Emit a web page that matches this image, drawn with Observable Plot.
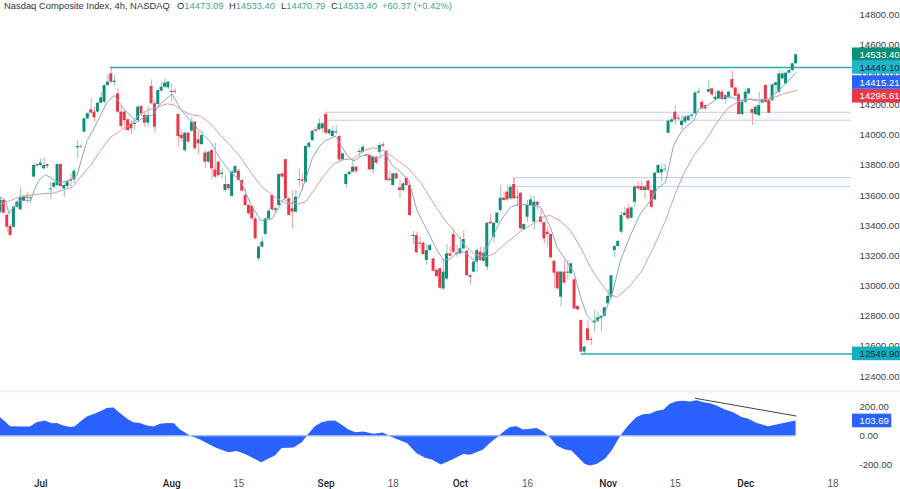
<!DOCTYPE html>
<html>
<head>
<meta charset="utf-8">
<script src="https://cdn.jsdelivr.net/npm/d3@7"></script>
<script src="https://cdn.jsdelivr.net/npm/@observablehq/plot@0.6"></script>
<style>
html,body{margin:0;padding:0;background:#fff;overflow:hidden}
#page{position:relative;width:900px;height:489px;font-family:"Liberation Sans",sans-serif}
#top,#bottom{position:absolute;left:0}
#top{top:0}
#bottom{top:391px}
.legend{position:absolute;top:0;font-size:9.4px;line-height:11px;color:#2f3340;white-space:nowrap}
.legend b{font-weight:normal;color:#3fa596}
</style>
</head>
<body>
<div id="page">
  <div id="top"></div>
  <div id="bottom"></div>
  <div class="legend" style="left:4px">Nasdaq Composite Index, 4h, NASDAQ</div>
  <div class="legend" style="left:177px">O<b>14473.09</b></div>
  <div class="legend" style="left:229px">H<b>14533.40</b></div>
  <div class="legend" style="left:281px">L<b>14470.79</b></div>
  <div class="legend" style="left:331px">C<b>14533.40</b></div>
  <div class="legend" style="left:382px"><b>+60.37 (+0.42%)</b></div>
</div>
<script>
const opens = [13490,13567,13468,13395,13390,13523,13505,13567,13589,13578,13722,13804,13799,13777,13804,13638,13655,13666,13806,13644,13660,13704,13704,13916,13925,14020,14108,14168,14153,14153,14212,14219,14329,14407,14349,14274,14153,14153,14102,14075,14071,14097,14190,14131,14080,14323,14208,14203,14292,14318,14314,14283,14292,14137,13998,13898,14013,14027,14086,13969,13938,13881,13821,13898,13770,13821,13739,13633,13673,13594,13748,13761,13700,13600,13534,13527,13445,13180,13258,13342,13445,13600,13501,13534,13744,13837,13578,13512,13490,13700,
13704,13688,13920,13964,14035,14035,14042,14137,14009,13991,14015,13991,13836,13673,13739,13755,13788,13885,13887,13869,13865,13770,13854,13887,13936,13892,13708,13666,13744,13651,13633,13715,13666,13328,13335,13284,13284,13169,13235,13180,13103,13114,12981,13047,13213,13341,13218,13213,13246,13231,13069,13092,13158,13224,13164,13125,13423,13324,13416,13500,13582,13622,13578,13673,13589,13615,13372,13456,13534,13423,13556,13456,13419,13357,13341,13164,13092,12926,13092,13085,13081,13041,12864,
12771,12562,12716,12645,12754,12767,12783,12798,12882,12926,
13235,13262,13357,13467,13511,13449,13555,13659,13659,13633,13695,13633,13571,13748,13750,13770,14013,14086,14152,14112,14064,14086,14097,14126,14141,14280,14218,14196,14285,14307,14236,14241,14285,14236,14247,14369,14313,14269,14137,14218,14274,14170,14137,14130,14214,14329,14229,14229,14329,14285,14373,14340,14411,14428,14473.09];
const highs = [13589,13578,13479,13412,13534,13567,13655,13600,13622,13600,13810,13810,13843,13850,13810,13689,13689,13810,13810,13677,13700,13744,13770,13965,13938,14115,14153,14241,14186,14219,14285,14336,14402,14451,14396,14307,14186,14159,14108,14097,14108,14197,14197,14153,14186,14367,14230,14301,14352,14374,14356,14341,14314,14142,14027,14020,14018,14119,14093,14020,14031,13898,13894,13903,13947,13826,13777,13733,13677,13766,13797,13777,13704,13644,13541,13534,13456,13269,13324,13452,13512,13605,13523,13744,13748,13841,13589,13633,13633,13777,
13744,13931,13953,14035,14053,14108,14086,14152,14042,14057,14064,13998,13880,13744,13759,13843,13792,13909,13936,13876,13869,13858,13858,13947,13953,13898,13766,13748,13748,13704,13682,13726,13671,13361,13357,13324,13290,13275,13279,13184,13114,13118,13180,13275,13257,13379,13268,13324,13368,13235,13074,13180,13246,13257,13257,13423,13478,13423,13489,13666,13622,13666,13666,13717,13644,13622,13412,13567,13600,13593,13560,13511,13423,13390,13346,13169,13096,13096,13169,13169,13151,13047,12871,
12776,12599,12771,12661,12838,12827,12805,12864,12975,13070,
13266,13301,13489,13522,13544,13522,13666,13688,13688,13666,13699,13637,13752,13805,13805,13810,14097,14119,14196,14130,14130,14130,14130,14141,14285,14313,14234,14201,14362,14313,14285,14296,14300,14267,14296,14428,14318,14285,14229,14307,14313,14174,14196,14285,14241,14333,14234,14340,14351,14424,14424,14417,14439,14477,14533.4];
const lows = [13479,13479,13357,13328,13379,13512,13501,13556,13545,13545,13717,13788,13788,13770,13777,13574,13644,13660,13655,13589,13644,13655,13677,13843,13910,14016,14102,14142,14086,14146,14208,14208,14323,14341,14323,14142,14042,14031,14020,14005,14031,14086,14119,14049,14053,14203,14013,14190,14285,14307,14301,14219,14270,13921,13954,13887,13943,14020,13898,13872,13932,13777,13810,13704,13715,13722,13711,13622,13633,13589,13744,13689,13622,13527,13468,13434,13308,13165,13253,13335,13439,13496,13479,13527,13717,13574,13461,13379,13483,13655,
13633,13682,13909,13960,14020,14031,14013,14000,14000,13987,14000,13821,13832,13648,13732,13748,13744,13854,13880,13854,13766,13744,13805,13843,13916,13695,13695,13660,13704,13578,13629,13660,13461,13275,13213,13240,13202,13136,13231,13092,13054,12977,12970,13036,13191,13213,13191,13209,13240,13063,13010,13085,13092,13164,13158,13103,13408,13284,13412,13489,13560,13560,13567,13571,13522,13372,13368,13423,13527,13372,13500,13412,13279,13257,13180,12981,12974,12860,13014,13036,13076,12842,12833,
12555,12549.9,12628,12606,12694,12754,12694,12794,12878,12922,
13186,13257,13345,13460,13438,13445,13522,13633,13628,13578,13628,13511,13567,13743,13688,13754,14008,14079,14064,14097,14035,14075,14092,14108,14137,14274,14168,14163,14278,14258,14229,14234,14229,14207,14241,14307,14252,14130,14130,14207,14263,14064,14130,14123,14207,14212,14141,14225,14274,14274,14366,14333,14406,14424,14470.79];
const closes = [13567,13483,13390,13335,13523,13556,13585,13589,13582,13585,13799,13795,13815,13799,13793,13644,13682,13806,13660,13666,13689,13695,13761,13925,13921,14108,14142,14146,14115,14212,14248,14329,14352,14352,14358,14153,14058,14097,14031,14042,14080,14186,14142,14080,14131,14208,14053,14296,14318,14345,14352,14290,14285,13991,13976,14013,13954,14086,13910,13943,13998,13821,13887,13777,13722,13733,13748,13673,13644,13755,13792,13700,13629,13534,13479,13445,13313,13258,13291,13445,13496,13505,13512,13739,13722,13578,13468,13490,13589,13706,
13695,13925,13947,14026,14026,14075,14075,14013,14035,14026,14022,13836,13876,13739,13755,13788,13759,13892,13920,13863,13770,13854,13814,13931,13927,13699,13699,13744,13710,13633,13677,13666,13467,13335,13220,13277,13209,13235,13268,13098,13063,12985,13092,13213,13198,13224,13211,13246,13308,13069,13058,13158,13235,13169,13217,13416,13412,13416,13483,13582,13567,13571,13655,13578,13582,13379,13408,13534,13571,13556,13534,13423,13313,13341,13187,13085,12981,13092,13019,13092,13147,12848,12842,
12562,12595,12639,12639,12767,12789,12798,12855,12931,13068,
13262,13295,13467,13483,13445,13518,13655,13644,13633,13655,13633,13522,13748,13799,13772,13774,14092,14101,14101,14106,14092,14119,14126,14134,14280,14287,14174,14174,14302,14267,14252,14291,14236,14263,14285,14313,14258,14137,14218,14285,14307,14146,14185,14196,14236,14218,14146,14333,14347,14406,14406,14411,14428,14473,14533.4];

const fastBars = [0,1.5,2.5,3.5,6,9,10,11.4,13.4,15.4,17.4,20.4,22.8,24.3,25.8,27.8,29.8,31.8,33.8,35,36.7,39.2,40.7,42.7,45.2,47.7,51.1,53.6,56.6,59.6,62.6,65.5,68.5,71.5,74.5,77.5,80.9,84.4,86.4,88.9,90.8,92.8,94.8,96.8,99.8,101.8,103.3,105.2,107.7,109.7,112.2,114.7,116.7,119.2,121.6,124.1,127.1,130.1,132.1,134,137,139,141.5,144,146,149,151.9,154.9,157.9,160.9,163.8,165.8,168.8,170.8,172.8,174.7,176.7,179.7,182.2,184.7,187.6,190.6,193.6,195.6,198.1,200.5,203,206.5,208,210.5,213.5,216.4,218.9,221.4,223.4,226.4,228.8,231.3,233.8,237];
const fastValues = [13589,13567,13479,13512,13567,13567,13633,13700,13739,13711,13682,13700,13733,13854,13965,14042,14131,14219,14263,14230,14175,14119,14086,14119,14131,14208,14274,14175,14097,14020,13954,13843,13755,13700,13545,13434,13445,13578,13545,13589,13699,13843,13920,13964,13993,13920,13865,13827,13865,13872,13843,13876,13799,13755,13699,13500,13368,13235,13169,13180,13235,13213,13158,13213,13301,13434,13523,13545,13534,13523,13390,13257,13158,13092,12926,12804,12760,12804,12948,13169,13334,13478,13566,13644,13688,13931,14031,14097,14174,14196,14241,14263,14241,14229,14241,14229,14241,14285,14340,14415.21];
const slowBars = [0,3,6,9.9,15.9,18.9,21.4,23.8,26.8,29.8,32.8,35.8,38.2,41.2,43.7,46.7,49.7,51.6,54.1,56.6,59.6,62.6,65.5,68.5,71.5,74.5,77.5,80.4,83.4,85.4,88.4,90.8,93.3,96.3,99.3,102.3,105.2,108.2,111.2,114.2,117.7,121.6,125.1,129.1,132.1,135,138.5,141,144,147,150.9,154.9,158.9,161.8,163.8,166.8,169.8,172.8,175.7,178.7,181.2,183.7,187.6,191.1,194.6,198.1,201,203.5,206.5,210,213.5,216.4,219.4,221.9,225.4,229.3,233.3,237];
const slowValues = [13545,13567,13594,13607,13616,13638,13655,13722,13799,13898,13987,14031,14064,14131,14164,14186,14208,14201,14164,14137,14126,14075,13998,13932,13854,13755,13666,13611,13567,13545,13545,13556,13633,13732,13810,13839,13843,13898,13916,13898,13843,13777,13688,13545,13445,13368,13268,13213,13191,13213,13290,13363,13416,13461,13467,13430,13368,13257,13124,13025,12948,12925,13003,13102,13257,13434,13611,13743,13865,13964,14086,14174,14218,14241,14229,14241,14274,14296.61];

const oscBars = [0,1.5,3,6,8.9,10.9,13.4,15.4,16.9,18.9,20.9,22.3,24.3,26,28.3,30.3,31.8,33.8,35.7,38.2,39.7,41.7,43.7,45.7,47.7,49.7,51.8,53.6,56.6,59.6,62.1,64.5,68,70.5,73,75.5,77.8,79.9,81.9,83.9,87.4,89.9,91.4,93.8,95.8,97.8,99.8,101.8,103.8,105.8,108.2,111.2,114,116.2,118.7,121.2,124.1,126.6,128.6,131.3,134.1,136,138,140,141.9,143.9,145.9,148.7,150.4,151.9,153.9,155.8,157.8,159.8,161.8,163.8,165.8,168.3,170.2,172.2,174.2,175.7,177.7,180.2,182.2,184.8,187.1,189.6,191.6,193.6,195.6,197.6,199.5,201.5,203.5,205.5,207.5,209.5,211.5,213.4,215.9,218.4,220.9,222.9,225.4,228.8,232.3,237];
const oscValues = [126,97,64,62,62,92,104,85,87,69,58,64,104,133,152,173,189,193,156,110,92,87,69,62,81,87,85,41,0,-28,-58,-87,-115,-106,-127,-156,-184,-161,-138,-87,-83,-46,0,64,92,101,104,74,41,23,28,12,21,-5,-30,-51,-122,-154,-166,-200,-172,-150,-127,-133,-115,-97,-51,0,35,58,64,41,46,51,28,-12,-69,-97,-104,-150,-196,-207,-196,-161,-104,0,69,127,147,150,170,177,219,237,239,235,244,230,223,207,179,161,127,115,87,64,81,103.69];
const slopeBars = [207,237];
const slopeValues = [260,138];

const priceTicks = [14800,14600,14400,14200,14000,13800,13600,13400,13200,13000,12800,12600,12400];
const oscTicks = [200,0,-200];
const monthBars = [51,97,137,181,222,12];
const monthNames = ["Aug","Sep","Oct","Nov","Dec","Jul"];
const dayBars = [71,117,157,201,248];
const dayNames = ["15","18","16","15","18"];

const supportLow = 12549.90, resistanceHigh = 14449.10;
const levelStarts = [32.8,173];
const levelPrices = [resistanceHigh,supportLow];
const zoneStarts = [96.8,152.9];
const zoneTops = [14152,13719];
const zoneBottoms = [14099,13659];

const tagTexts = ["14533.40","14449.10","14415.21","14296.61","12549.90"];
const tagPrices = [14533,14449,14349,14258,12549.9];
const tagFills = ["#0b8f78","#22b5c8","#2962ff","#e8394a","#12aebd"];
const tagInks = ["#ffffff","#0f2b46","#ffffff","#ffffff","#0f2b46"];
const oscTagText = ["103.69"];
const oscTagValue = [103.69];

const GREEN = "#0e8f78", RED = "#e8394a", BLUE = "#2962ff", INK = "#3a3e4a";
const bars = d3.range(opens.length);
const colorOf = i => closes[i] >= opens[i] ? GREEN : RED;
const AXIS_END = 253.8, CHART_END = 268.1, TEXT_AT = 255.9, HALF_BODY = 0.44;
const idx = a => d3.range(a.length);
const fmt = d3.format(".2f");
const common = {width:900, marginLeft:0, marginRight:48, marginTop:0,
  style:{background:"#fff", fontFamily:"'Liberation Sans',sans-serif", fontSize:"10px", overflow:"visible"},
  x:{domain:[0,AXIS_END], axis:null}, color:{type:"identity"}};

const priceChart = Plot.plot({...common, height:391, marginBottom:0,
  y:{domain:[12300.5,14893], axis:null},
  marks:[
    Plot.rect(idx(zoneStarts),{x1:i=>zoneStarts[i],x2:()=>AXIS_END-0.3,y1:i=>zoneBottoms[i],y2:i=>zoneTops[i],fill:"#f8fafe"}),
    Plot.ruleY(idx(zoneStarts),{x1:i=>zoneStarts[i],x2:()=>AXIS_END-0.3,y:i=>zoneTops[i],stroke:"#c9d0e0",strokeWidth:1}),
    Plot.ruleY(idx(zoneStarts),{x1:i=>zoneStarts[i],x2:()=>AXIS_END-0.3,y:i=>zoneBottoms[i],stroke:"#c9d0e0",strokeWidth:1}),
    Plot.ruleX(idx(zoneStarts),{x:i=>zoneStarts[i],y1:i=>zoneBottoms[i],y2:i=>zoneTops[i],stroke:"#c9d0e0",strokeWidth:1}),
    Plot.ruleY(idx(levelStarts),{x1:i=>levelStarts[i],x2:()=>AXIS_END,y:i=>levelPrices[i],stroke:"#2aabb0",strokeWidth:1.5}),
    Plot.ruleX(bars,{x:i=>i,y1:i=>lows[i],y2:i=>highs[i],stroke:colorOf,strokeWidth:0.9,strokeOpacity:0.55}),
    Plot.rect(bars,{x1:i=>i-HALF_BODY,x2:i=>i+HALF_BODY,y1:i=>opens[i],y2:i=>closes[i],fill:colorOf}),
    Plot.line(idx(fastBars),{x:i=>fastBars[i],y:i=>fastValues[i],stroke:"#8ca4d2",strokeWidth:1}),
    Plot.line(idx(slowBars),{x:i=>slowBars[i],y:i=>slowValues[i],stroke:"#dc9c9e",strokeWidth:1}),
    Plot.axisY(priceTicks,{anchor:"right",tickSize:0,tickPadding:7,tickFormat:fmt,label:null,color:INK,fontSize:9.6}),
    Plot.rect(idx(tagTexts),{x1:()=>AXIS_END,x2:()=>CHART_END,y1:i=>tagPrices[i]-45,y2:i=>tagPrices[i]+45,fill:i=>tagFills[i]}),
    Plot.text(idx(tagTexts),{x:()=>TEXT_AT,y:i=>tagPrices[i],text:i=>tagTexts[i],fill:i=>tagInks[i],textAnchor:"start",fontSize:9.6})
  ]});
document.getElementById("top").append(priceChart);

const oscChart = Plot.plot({...common, height:98, marginBottom:16,
  y:{domain:[-258.6,307], axis:null},
  marks:[
    Plot.ruleY([307],{x1:()=>0,x2:()=>CHART_END,stroke:"#eef0f3",strokeWidth:2}),
    Plot.areaY(idx(oscBars),{x:i=>oscBars[i],y:i=>oscValues[i],fill:BLUE}),
    Plot.ruleY([0],{x1:()=>0,x2:()=>237,stroke:"#9db8ff",strokeWidth:0.8}),
    Plot.line(idx(slopeBars),{x:i=>slopeBars[i],y:i=>slopeValues[i],stroke:"#2d2f36",strokeWidth:0.9}),
    Plot.axisY(oscTicks,{anchor:"right",tickSize:0,tickPadding:7,tickFormat:d=>d3.format(".2f")(d).replace("−","-"),label:null,color:INK,fontSize:9.6}),
    Plot.rect(oscTagValue,{x1:()=>AXIS_END,x2:()=>265.5,y1:d=>d-47,y2:d=>d+47,fill:BLUE}),
    Plot.text(idx(oscTagText),{x:()=>TEXT_AT,y:i=>oscTagValue[i],text:i=>oscTagText[i],fill:"#ffffff",textAnchor:"start",fontSize:9.6}),
    Plot.axisX(monthBars,{anchor:"bottom",tickSize:0,tickPadding:6,tickFormat:b=>monthNames[monthBars.indexOf(b)],label:null,color:"#1c1f2a",fontFamily:"Roboto",fontWeight:500,fontSize:10}),
    Plot.axisX(dayBars,{anchor:"bottom",tickSize:0,tickPadding:6,tickFormat:b=>dayNames[dayBars.indexOf(b)],label:null,color:"#565a66",fontSize:10})
  ]});
document.getElementById("bottom").append(oscChart);
</script>
</body>
</html>
